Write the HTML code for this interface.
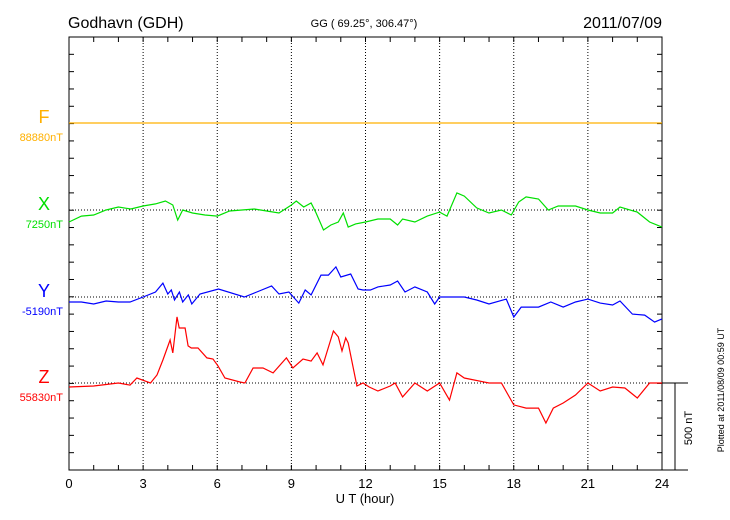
<!DOCTYPE html>
<html><head><meta charset="utf-8"><style>
html,body{margin:0;padding:0;background:#fff;}
svg{display:block;font-family:"Liberation Sans",sans-serif;}
</style></head><body>
<svg id="chart" width="730" height="520" viewBox="0 0 730 520">
<text x="68" y="28" font-size="16">Godhavn (GDH)</text>
<text x="364" y="27" font-size="11" text-anchor="middle">GG ( 69.25°, 306.47°)</text>
<text x="662" y="28" font-size="16" text-anchor="end">2011/07/09</text>
<text x="365" y="503" font-size="13" text-anchor="middle">U T (hour)</text>
<text transform="translate(724,390) rotate(-90)" font-size="9" text-anchor="middle">Plotted at 2011/08/09 00:59 UT</text>
<g id="grid"></g>
<g id="series"></g>
<g id="labels"></g>
</svg>
<script>
const hours = [0,3,6,9,12,15,18,21,24];
const componentNames = ["F","X","Y","Z"];
const baselineLabels = ["88880nT","7250nT","-5190nT","55830nT"];
const fT = [0,24];
const fV = [0,0];
const xT = [0,0.5,1,1.5,2,2.5,3,3.5,3.9,4.2,4.4,4.6,5,5.5,6,6.5,7,7.5,8,8.5,9,9.2,9.5,9.8,10,10.3,10.6,10.9,11.1,11.3,11.6,12,12.5,13,13.3,13.5,14,14.5,15,15.3,15.7,16,16.5,17,17.5,17.9,18.2,18.5,19,19.4,19.8,20.5,21,21.5,22,22.3,23,23.5,24];
const xV = [-69,-35,-29,0,17,6,23,35,52,29,-58,0,-17,-29,-35,-6,0,6,-6,-17,29,52,17,40,-17,-115,-86,-69,-17,-98,-80,-69,-52,-52,-86,-52,-69,-35,-12,-35,98,80,12,-17,0,-29,46,75,63,0,23,23,0,-17,-17,17,-12,-69,-98];
const yT = [0,0.5,1,1.5,2,2.47,3,3.5,3.8,4,4.14,4.27,4.47,4.6,4.83,4.97,5.3,6.05,7.1,7.6,8.2,8.5,8.9,9.3,9.56,9.8,10.2,10.5,10.8,11,11.4,11.7,11.9,12.2,12.5,13,13.3,13.6,14,14.5,14.8,15,15.5,16,16.5,17,17.7,18,18.3,19,19.5,20,20.5,21,21.5,22,22.3,22.8,23.3,23.7,24];
const yV = [-29,-29,-40,-23,-29,-29,0,29,80,17,40,-17,29,-29,12,-40,17,46,0,29,63,17,29,-35,40,12,126,126,173,115,132,46,40,40,58,69,92,29,58,29,-40,0,0,0,-17,-40,-12,-115,-58,-58,-29,-58,-29,-12,-35,-46,-23,-98,-104,-144,-126];
const zT = [0,1,2,2.47,2.75,3.3,3.56,3.8,4.09,4.2,4.37,4.46,4.7,4.82,4.95,5.22,5.58,5.83,6.03,6.31,6.92,7.12,7.45,7.85,8.26,8.8,9.06,9.47,9.8,10.04,10.28,10.7,10.9,11.05,11.2,11.3,11.65,11.9,12.15,12.5,13,13.2,13.5,14,14.5,15,15.4,15.7,16,17,17.5,18,18.5,19,19.3,19.6,20,20.5,21,21.5,22,22.5,23,23.5,24];
const zV = [-23,-17,0,-12,29,0,46,132,247,173,380,316,316,213,201,201,144,138,98,29,6,0,86,86,58,144,86,138,126,173,104,299,265,184,259,230,-17,0,-23,-46,-17,0,-80,0,-46,0,-98,58,29,0,0,-126,-144,-144,-230,-144,-115,-69,0,-46,-23,-29,-86,0,0];
const seriesT = [fT,xT,yT,zT];
const seriesV = [fV,xV,yV,zV];
const colors = ["#ffb000","#00e000","#0000ff","#ff0000"];

const L=69,R=662,T=37,B=470;
const baseY=[123,210,297,383];
const pxPerNT = 87/500;
const sx = h => L + (R-L)*h/24;
const sy = (i,v) => baseY[i] - v*pxPerNT;
const NS="http://www.w3.org/2000/svg";
function mk(tag,attrs,parent){const e=document.createElementNS(NS,tag);for(const k in attrs)e.setAttribute(k,attrs[k]);parent.appendChild(e);return e;}
const grid=document.getElementById('grid'), ser=document.getElementById('series'), lab=document.getElementById('labels');

const fr = mk('rect',{x:L,y:T,width:R-L,height:B-T,fill:'none',stroke:'#000','stroke-width':1},grid);


for(let h=0;h<=24;h++){
  const x=sx(h);
  const t1=mk('line',{x1:x,y1:T,x2:x,y2:T+5,stroke:'#000'},grid);
  
  
  const t2=mk('line',{x1:x,y1:B,x2:x,y2:B-5,stroke:'#000'},grid);
  
  
}
hours.forEach(h=>{
  const x=sx(h);
  if(h>0&&h<24){const g=mk('line',{x1:x,y1:T,x2:x,y2:B,stroke:'#000','stroke-dasharray':'1,2'},grid);
  
  }
  const t=mk('text',{x:x,y:488,'font-size':13,'text-anchor':'middle'},lab);
  t.textContent=h;
  
  
});
for(let k=0;k<=25;k++){
  const y=T+k*(B-T)/25;
  const a=mk('line',{x1:L,y1:y,x2:L+5,y2:y,stroke:'#000'},grid);
  
  
  const b=mk('line',{x1:R,y1:y,x2:R-5,y2:y,stroke:'#000'},grid);
  
  
}
componentNames.forEach((n,i)=>{
  const y=baseY[i];
  const bl=mk('line',{x1:L,y1:y,x2:R,y2:y,stroke:'#000','stroke-dasharray':'1,2'},grid);
  
  
  const t=mk('text',{x:44,y:y,'font-size':18,'text-anchor':'middle',fill:colors[i]},lab);
  t.textContent=n;
  
  
  const v=mk('text',{x:63,y:y+18,'font-size':11,'text-anchor':'end',fill:colors[i]},lab);
  v.textContent=baselineLabels[i];
  
  
  const pts=seriesT[i].map((h,j)=>sx(h).toFixed(1)+','+sy(i,seriesV[i][j]).toFixed(1)).join(' ');
  const p=mk('polyline',{points:pts,fill:'none',stroke:colors[i],'stroke-width':1.2},ser);
  
  
});
const s1=mk('line',{x1:R,y1:383,x2:688,y2:383,stroke:'#000'},grid);


const s2=mk('line',{x1:675,y1:383,x2:675,y2:470,stroke:'#000'},grid);


const s3=mk('line',{x1:R,y1:470,x2:688,y2:470,stroke:'#000'},grid);


const st=mk('text',{transform:'translate(692,428) rotate(-90)','font-size':11,'text-anchor':'middle'},lab);
st.textContent='500 nT';


</script>
</body></html>
